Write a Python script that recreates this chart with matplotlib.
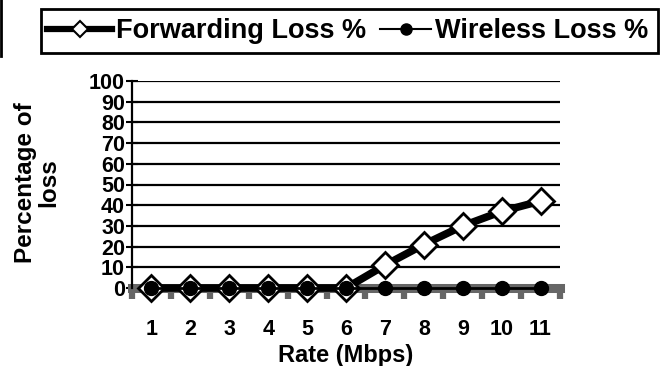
import numpy as np
import matplotlib.pyplot as plt
from matplotlib.lines import Line2D
from matplotlib.patches import Rectangle

rates = [1, 2, 3, 4, 5, 6, 7, 8, 9, 10, 11]
forwarding_loss = [0, 0, 0, 0, 0, 0, 11, 21, 30, 37, 42]
wireless_loss = [0, 0, 0, 0, 0, 0, 0, 0, 0, 0, 0]
yticks = [0, 10, 20, 30, 40, 50, 60, 70, 80, 90, 100]

plt.rcParams['font.family'] = ['Liberation Sans', 'DejaVu Sans']
plt.rcParams['font.weight'] = 'bold'

W, H = 667, 366
fig = plt.figure(figsize=(W / 100, H / 100), dpi=100)
ax = fig.add_axes([132 / W, 1 - 288 / H, (560 - 132) / W, (288 - 81) / H])

# horizontal gridlines
for y in yticks[1:]:
    ax.axhline(y, color='black', lw=1.6, zorder=1)

# gray floor along zero with little gray ticks between the categories
ax.axhline(0, color='#666666', lw=6.5, zorder=2, clip_on=False)
for b in np.arange(0.5, 12, 1.0):
    ax.plot([b, b], [0, -5.5], color='#666666', lw=4.5, solid_capstyle='butt',
            zorder=2, clip_on=False)

ax.plot(rates, forwarding_loss, color='black', lw=5.5, marker='D', ms=13.5,
        mfc='white', mec='black', mew=2, zorder=4, clip_on=False)
ax.plot(rates, wireless_loss, color='black', lw=2, marker='o', ms=10,
        mfc='black', mec='black', zorder=5, clip_on=False)

ax.set_xlim(0.5, 11.5)
ax.set_ylim(0, 100)
ax.set_yticks(yticks)
ax.set_xticks(rates)
ax.tick_params(axis='y', direction='inout', length=8, width=1.5, labelsize=15.5, pad=1)
ax.tick_params(axis='x', length=0, labelsize=15.5, pad=22)
for s in ['top', 'right', 'bottom']:
    ax.spines[s].set_visible(False)
ax.spines['left'].set_linewidth(1.6)

ax.set_xlabel('Rate (Mbps)', fontsize=17, fontweight='bold', labelpad=3)
fig.text(37 / W, 1 - 183 / H, 'Percentage of\nloss', rotation=90,
         ha='center', va='center', fontsize=17.5, fontweight='bold',
         linespacing=1.05)

# legend: two entries placed separately (different key lengths), one shared box
fwd_key = Line2D([], [], color='black', lw=4.5, marker='D', ms=8, mfc='white',
                 mec='black', mew=1.5)
wl_key = Line2D([], [], color='black', lw=1.5, marker='o', ms=8, mfc='black', mec='black')
entries = [(fwd_key, 'Forwarding Loss %', 47, 2.4), (wl_key, 'Wireless Loss %', 380, 1.9)]
for key, label, x0, hl in entries:
    leg = fig.legend([key], [label], loc='center left', bbox_to_anchor=(x0 / W, 1 - 31 / H),
                     fontsize=19.5, frameon=False, handlelength=hl, handletextpad=0.14,
                     borderpad=0, borderaxespad=0)
    for t in leg.get_texts():
        t.set_fontweight('bold')
fig.add_artist(Rectangle((41 / W, 1 - 53 / H), (658 - 41) / W, 44 / H,
                         transform=fig.transFigure, fill=False, ec='black', lw=2))

# edge of the neighbouring frame at the top left
fig.add_artist(Line2D([1.5 / W, 1.5 / W], [1 - 56 / H, 1.0], color='black', lw=2))

fig.savefig('out.png', dpi=100)
